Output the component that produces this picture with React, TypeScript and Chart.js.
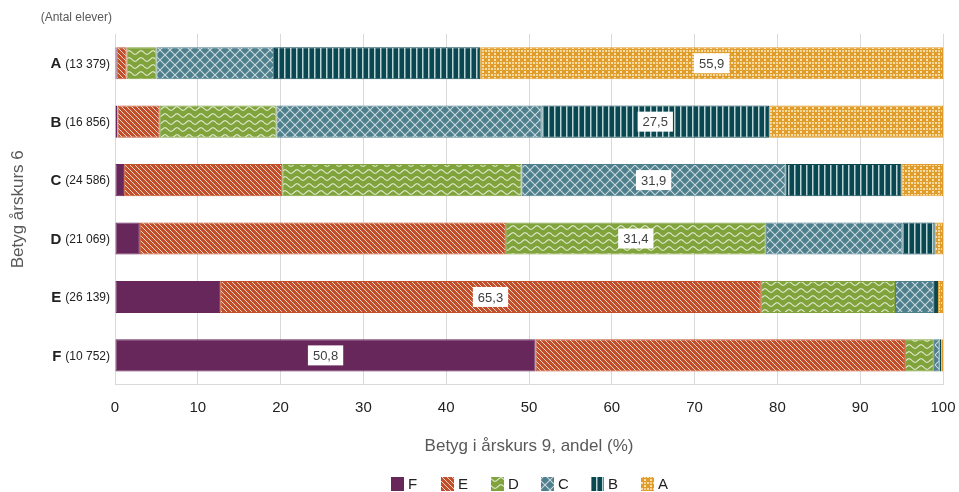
import React, { useEffect, useRef } from "react";
import { Chart, registerables } from "chart.js";

Chart.register(...registerables);

const rowLetters = ["A", "B", "C", "D", "E", "F"];
const rowCounts = ["(13 379)", "(16 856)", "(24 586)", "(21 069)", "(26 139)", "(10 752)"];
const gradeNames = ["F", "E", "D", "C", "B", "A"];

const valuesF = [0.2, 0.3, 1.1, 3.0, 12.7, 50.8];
const valuesE = [1.2, 5.1, 19.1, 44.2, 65.3, 44.6];
const valuesD = [3.6, 14.1, 28.9, 31.4, 16.2, 3.5];
const valuesC = [14.2, 32.0, 31.9, 16.5, 4.7, 0.7];
const valuesB = [24.9, 27.5, 14.0, 3.9, 0.5, 0.2];
const valuesA = [55.9, 21.0, 5.0, 1.0, 0.6, 0.2];

const xTicks = [0, 10, 20, 30, 40, 50, 60, 70, 80, 90, 100];

const FONT = "'Liberation Sans', Arial, sans-serif";

function makePattern(w: number, h: number, bg: string, draw: (c: CanvasRenderingContext2D) => void): CanvasPattern | string {
  const cv = document.createElement("canvas");
  cv.width = w;
  cv.height = h;
  const c = cv.getContext("2d");
  if (!c) return bg;
  c.fillStyle = bg;
  c.fillRect(0, 0, w, h);
  draw(c);
  const p = c.createPattern(cv, "repeat");
  return p || bg;
}

export default function App() {
  const ref = useRef<HTMLCanvasElement | null>(null);

  useEffect(() => {
    document.body.style.margin = "0";
    const canvas = ref.current;
    if (!canvas) return;
    const ctx = canvas.getContext("2d");
    if (!ctx) return;

    const colF = "#68275A";
    const colE = "#C1502A";
    const colD = "#80A33C";
    const colC = "#4E7F8C";
    const colB = "#0B4751";
    const colA = "#E09D2C";

    const patF = colF;
    const patE = makePattern(5, 5, colE, (c) => {
      c.strokeStyle = "rgba(255,255,255,0.75)";
      c.lineWidth = 1;
      for (let k = -5; k <= 5; k += 5) {
        c.beginPath();
        c.moveTo(k - 1, -1);
        c.lineTo(k + 6, 6);
        c.stroke();
      }
    });
    const patD = makePattern(12, 7, colD, (c) => {
      c.strokeStyle = "rgba(255,255,255,0.8)";
      c.lineWidth = 1.1;
      c.beginPath();
      for (let x = 0; x <= 12; x += 0.5) {
        const y = 3.5 + 1.8 * Math.sin((2 * Math.PI * x) / 12);
        if (x === 0) c.moveTo(x, y);
        else c.lineTo(x, y);
      }
      c.stroke();
    });
    const patC = makePattern(10, 10, colC, (c) => {
      c.strokeStyle = "rgba(255,255,255,0.7)";
      c.lineWidth = 1.1;
      c.beginPath();
      c.moveTo(0, 0);
      c.lineTo(10, 10);
      c.moveTo(10, 0);
      c.lineTo(0, 10);
      c.stroke();
    });
    const patB = makePattern(6, 2, colB, (c) => {
      c.fillStyle = "#B9D5D8";
      c.fillRect(2, 0, 1.5, 2);
    });
    const patA = makePattern(6, 6, colA, (c) => {
      c.fillStyle = "rgba(255,235,190,0.85)";
      c.fillRect(2, 0, 2, 1);
      c.fillRect(0, 2, 1, 2);
      c.fillRect(5, 2, 1, 2);
      c.fillRect(2, 5, 2, 1);
      c.fillStyle = "rgba(255,245,220,0.6)";
      c.fillRect(2, 2, 2, 2);
    });

    const series = [valuesF, valuesE, valuesD, valuesC, valuesB, valuesA];
    const pats = [patF, patE, patD, patC, patB, patA];
    const cols = [colF, colE, colD, colC, colB, colA];

    const labelPlugin = {
      id: "customLabels",
      afterDatasetsDraw(chart: any) {
        const c = chart.ctx;
        c.save();
        for (let i = 0; i < rowLetters.length; i++) {
          const j = gradeNames.indexOf(rowLetters[i]);
          const el = chart.getDatasetMeta(j).data[i];
          const cx = (el.x + el.base) / 2;
          const cy = el.y;
          const txt = series[j][i].toFixed(1).replace(".", ",");
          c.font = `13px ${FONT}`;
          const w = c.measureText(txt).width + 10;
          c.fillStyle = "#ffffff";
          c.fillRect(cx - w / 2, cy - 10, w, 20);
          c.fillStyle = "#404040";
          c.textAlign = "center";
          c.textBaseline = "middle";
          c.fillText(txt, cx, cy + 1);
        }
        c.restore();
      },
      afterDraw(chart: any) {
        const c = chart.ctx;
        const ys = chart.scales.y;
        c.save();
        c.textBaseline = "middle";
        c.textAlign = "right";
        const rightX = chart.chartArea.left - 5;
        for (let i = 0; i < rowLetters.length; i++) {
          const y = ys.getPixelForValue(i);
          c.font = `12px ${FONT}`;
          c.fillStyle = "#222222";
          c.fillText(rowCounts[i], rightX, y + 1);
          const w = c.measureText(rowCounts[i]).width;
          c.font = `bold 15px ${FONT}`;
          c.fillText(rowLetters[i], rightX - w - 4, y + 1);
        }
        c.font = `12px ${FONT}`;
        c.fillStyle = "#595959";
        c.textAlign = "right";
        c.fillText("(Antal elever)", 112, 18);

        // legend
        c.font = `15px ${FONT}`;
        c.textAlign = "left";
        let x = 391;
        const ly = 484;
        gradeNames.forEach((g, j) => {
          c.fillStyle = pats[j] as any;
          c.fillRect(x, ly - 7, 13, 14);
          c.fillStyle = "#222222";
          c.fillText(g, x + 17, ly + 1);
          x += 50;
        });
        c.restore();
      },
    };

    const chart = new Chart(ctx, {
      type: "bar",
      data: {
        labels: rowLetters,
        datasets: gradeNames.map((g, j) => ({
          label: g,
          data: series[j],
          backgroundColor: pats[j] as any,
          borderColor: cols[j],
          borderWidth: 1,
          borderSkipped: false,
          barPercentage: 0.55,
          categoryPercentage: 1.0,
        })),
      },
      options: {
        indexAxis: "y",
        animation: false,
        responsive: false,
        maintainAspectRatio: false,
        layout: { padding: { top: 34, right: 16, bottom: 29, left: 0 } },
        plugins: {
          tooltip: { enabled: false },
          legend: { display: false },
        },
        scales: {
          x: {
            stacked: true,
            min: 0,
            max: 100,
            afterBuildTicks: (scale: any) => {
              scale.ticks = xTicks.map((v) => ({ value: v }));
            },
            afterFit: (scale: any) => {
              scale.paddingRight = 0;
              scale.paddingLeft = 0;
            },
            grid: { color: "#d9d9d9", drawTicks: false },
            border: { color: "#d9d9d9" },
            ticks: {
              color: "#222222",
              padding: 14,
              font: { family: FONT, size: 15 },
              maxRotation: 0,
            },
            title: {
              display: true,
              text: "Betyg i årskurs 9, andel (%)",
              color: "#595959",
              font: { family: FONT, size: 17 },
              padding: { top: 6, bottom: 6 },
            },
          },
          y: {
            stacked: true,
            grid: { display: false, drawTicks: false },
            border: { display: true, color: "#d9d9d9" },
            ticks: { display: false },
            title: {
              display: true,
              text: "Betyg årskurs 6",
              color: "#595959",
              font: { family: FONT, size: 17 },
              padding: { top: 8, bottom: 0 },
            },
            afterFit: (scale: any) => {
              scale.width = 115;
            },
          },
        },
      },
      plugins: [labelPlugin],
    });

    return () => {
      chart.destroy();
    };
  }, []);

  return (
    <div style={{ width: 959, height: 492 }}>
      <canvas ref={ref} width={959} height={492} style={{ display: "block" }} />
    </div>
  );
}
